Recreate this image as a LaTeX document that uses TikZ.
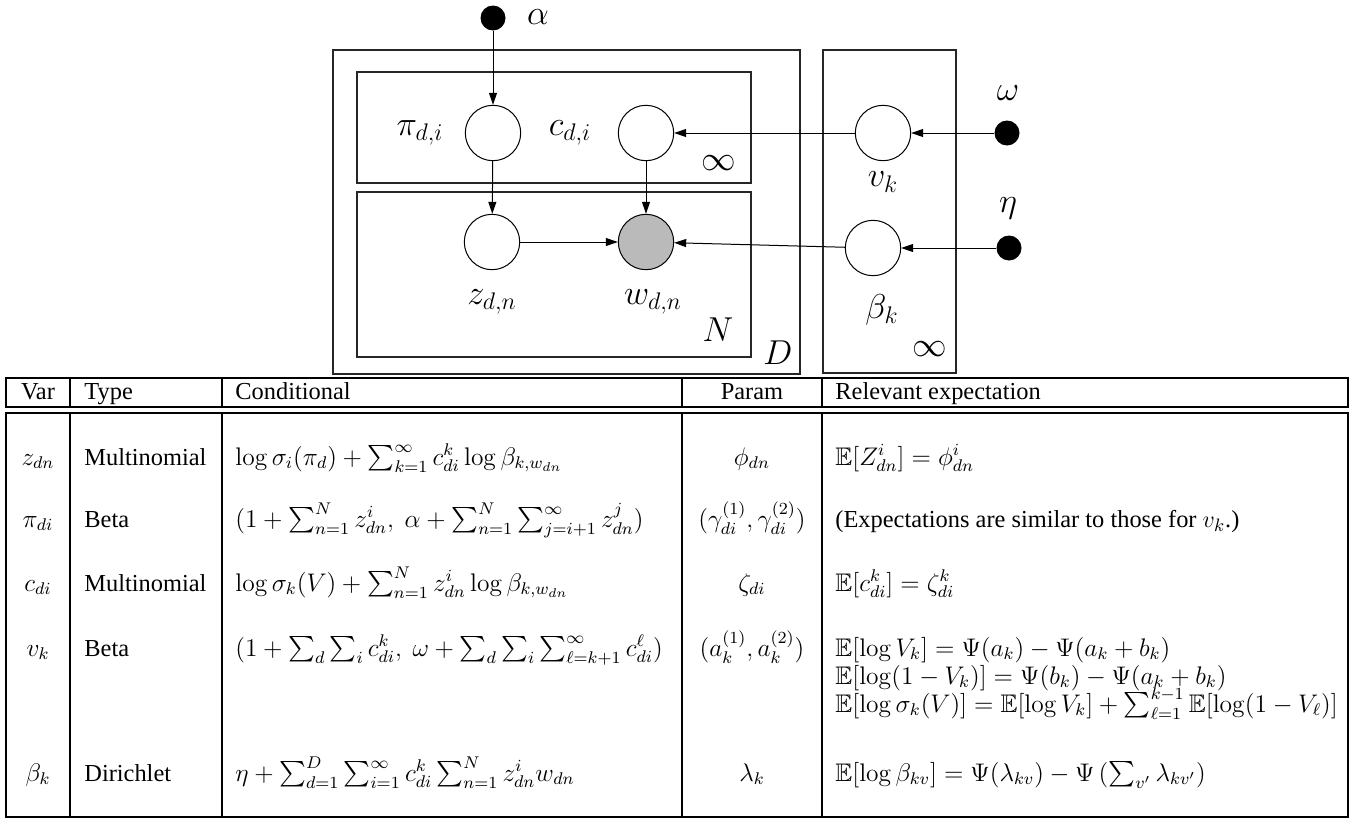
\documentclass[tikz,border=0pt]{standalone}
\usepackage{amsmath}
\usepackage{amssymb}
\usepackage[no-math]{fontspec}
\setmainfont{Liberation Serif}
\usetikzlibrary{arrows.meta}

\tikzset{
  latent/.style={circle, draw, line width=0.5pt, minimum size=27.7pt, inner sep=0pt},
  obs/.style={latent, fill=black!27},
  hyper/.style={circle, fill=black, minimum size=12.5pt, inner sep=0pt},
  plate/.style={draw=black!85, line width=0.6pt},
  lbl/.style={font=\fontsize{17.5}{20}\selectfont, inner sep=0pt},
  edge/.style={-{Triangle[length=6pt,width=4pt]}, line width=0.5pt},
  cell/.style={anchor=base west, font=\fontsize{12.2}{14}\selectfont, inner sep=0pt},
  mcell/.style={cell, font=\fontsize{12}{14}\selectfont, scale=1.06, transform shape},
  ccell/.style={cell, anchor=base},
  mccell/.style={mcell, anchor=base},
  rule/.style={line width=1pt}
}

\begin{document}
\begin{tikzpicture}[x=0.5pt, y=-0.5pt]
\useasboundingbox (0,0) rectangle (1357,825);

% plates
\draw[plate] (333,50) rectangle (800,374);
\draw[plate] (357,72) rectangle (751,183);
\draw[plate] (357,192) rectangle (751,357);
\draw[plate] (823,50) rectangle (956,373);
\node[lbl] (Dlbl) at (778,353) {$D$};
\node[lbl] (Nlbl) at (718,330) {$N$};
\node[lbl] (Ilbl) at (719,163) {$\infty$};
\node[lbl] (Klbl) at (930,349) {$\infty$};

% variables
\node[hyper] (alpha) at (493,18) {};
\node[latent] (pi) at (493,133) {};
\node[latent] (c) at (646,133) {};
\node[latent] (z) at (492,242) {};
\node[obs] (w) at (646,242) {};
\node[latent] (v) at (883,133) {};
\node[latent] (beta) at (873,248) {};
\node[hyper] (omega) at (1007,133) {};
\node[hyper] (eta) at (1009,248) {};

\node[lbl] (alphalbl) at (538,17) {$\alpha$};
\node[lbl] (pilbl) at (420,133) {$\pi_{d,i}$};
\node[lbl] (clbl) at (570,133) {$c_{d,i}$};
\node[lbl] (zlbl) at (492,302) {$z_{d,n}$};
\node[lbl] (wlbl) at (653,302) {$w_{d,n}$};
\node[lbl] (vlbl) at (883,182) {$v_k$};
\node[lbl] (betalbl) at (882,310) {$\beta_k$};
\node[lbl] (omegalbl) at (1008,93) {$\omega$};
\node[lbl] (etalbl) at (1008,208) {$\eta$};

% edges
\draw[edge] (alpha) -- (pi);
\draw[edge] (pi) -- (z);
\draw[edge] (c) -- (w);
\draw[edge] (z) -- (w);
\draw[edge] (v) -- (c);
\draw[edge] (beta) -- (w);
\draw[edge] (omega) -- (v);
\draw[edge] (eta) -- (beta);

% table rules
\draw[rule] (6,378) rectangle (1348,407);
\draw[rule] (6,413) rectangle (1348,817);
\foreach \x in {70,222,682,822} {
  \draw[rule] (\x,378) -- (\x,407);
  \draw[rule] (\x,413) -- (\x,817);
}

% header
\node[ccell] (hvar) at (38,399) {Var};
\node[cell] (htype) at (84,399) {Type};
\node[cell] (hcond) at (235,399) {Conditional};
\node[ccell] (hparam) at (752,399) {Param};
\node[cell] (hexp) at (835,399) {Relevant expectation};

% variable and type columns
\foreach \i/\v/\t/\y in {1/z_{dn}/Multinomial/465, 2/\pi_{di}/Beta/527,
    3/c_{di}/Multinomial/591, 4/v_k/Beta/656, 5/\beta_k/Dirichlet/781} {
  \node[mccell] (var\i) at (38,\y) {$\v$};
  \node[cell] (type\i) at (84,\y) {\t};
}

% conditionals
\node[mcell] (cond1) at (235,465) {$\log\sigma_i(\pi_d)+\sum_{k=1}^{\infty}c_{di}^k\log\beta_{k,w_{dn}}$};
\node[mcell] (cond2) at (235,527) {$(1+\sum_{n=1}^N z_{dn}^i,\ \alpha+\sum_{n=1}^N\sum_{j=i+1}^{\infty}z_{dn}^j)$};
\node[mcell] (cond3) at (235,591) {$\log\sigma_k(V)+\sum_{n=1}^N z_{dn}^i\log\beta_{k,w_{dn}}$};
\node[mcell] (cond4) at (235,656) {$(1+\sum_d\sum_i c_{di}^k,\ \omega+\sum_d\sum_i\sum_{\ell=k+1}^{\infty}c_{di}^{\ell})$};
\node[mcell] (cond5) at (235,781) {$\eta+\sum_{d=1}^D\sum_{i=1}^{\infty}c_{di}^k\sum_{n=1}^N z_{dn}^i w_{dn}$};

% variational parameters
\node[mccell] (param1) at (752,465) {$\phi_{dn}$};
\node[mccell] (param2) at (752,527) {$(\gamma_{di}^{(1)},\gamma_{di}^{(2)})$};
\node[mccell] (param3) at (752,591) {$\zeta_{di}$};
\node[mccell] (param4) at (752,656) {$(a_k^{(1)},a_k^{(2)})$};
\node[mccell] (param5) at (752,781) {$\lambda_k$};

% expectations
\node[mcell] (exp1) at (835,465) {$\mathbb{E}[Z_{dn}^i]=\phi_{dn}^i$};
\node[cell] (exp2) at (835,527) {(Expectations are similar to those for $v_k$.)};
\node[mcell] (exp3) at (835,591) {$\mathbb{E}[c_{di}^k]=\zeta_{di}^k$};
\node[mcell] (exp4a) at (835,656) {$\mathbb{E}[\log V_k]=\Psi(a_k)-\Psi(a_k+b_k)$};
\node[mcell] (exp4b) at (835,684) {$\mathbb{E}[\log(1-V_k)]=\Psi(b_k)-\Psi(a_k+b_k)$};
\node[mcell] (exp4c) at (835,712) {$\mathbb{E}[\log\sigma_k(V)]=\mathbb{E}[\log V_k]+\sum_{\ell=1}^{k-1}\mathbb{E}[\log(1-V_{\ell})]$};
\node[mcell] (exp5) at (835,781) {$\mathbb{E}[\log\beta_{kv}]=\Psi(\lambda_{kv})-\Psi\left(\sum_{v'}\lambda_{kv'}\right)$};
\end{tikzpicture}
\end{document}
